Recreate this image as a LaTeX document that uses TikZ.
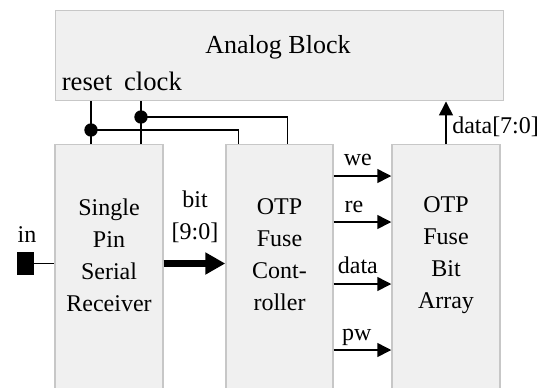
\documentclass[tikz,border=0pt]{standalone}
\usepackage{fontspec}
\setmainfont{Liberation Serif}
\usetikzlibrary{arrows.meta}
\begin{document}
\begin{tikzpicture}[
  x=0.75pt, y=-0.75pt,
  block/.style={draw=black!22, fill=black!6, line width=1.1pt, inner sep=0pt},
  txt/.style={align=center, inner sep=0pt, font=\fontsize{18}{24}\selectfont},
  sig/.style={inner sep=0pt, anchor=base, font=\fontsize{18}{24}\selectfont},
  wire/.style={line width=1.1pt},
  ctrl/.style={line width=1.1pt, -{Triangle[length=10.5pt, width=10.5pt]}},
  joint/.style={circle, fill=black, inner sep=0pt, minimum size=10pt}
]
  \clip (0,0) rectangle (546,387);

  % blocks
  \node[block, anchor=north west, minimum width=336pt, minimum height=67.5pt] (analog) at (55,10) {};
  \node[block, anchor=north, minimum width=81pt, minimum height=192pt] (ssr) at (109,144) {};
  \node[block, anchor=north, minimum width=80.25pt, minimum height=192pt] (ctl) at (279.5,144) {};
  \node[block, anchor=north, minimum width=81pt, minimum height=192pt] (arr) at (446,144) {};

  \node[txt, font=\fontsize{19.5}{24}\selectfont] (title) at (278,47) {Analog Block};
  \node[sig, font=\fontsize{20}{24}\selectfont] (reset) at (87,90) {reset};
  \node[sig, font=\fontsize{20}{24}\selectfont] (clock) at (153,90) {clock};
  \node[txt] (ssrtext) at (109,255) {Single\\Pin\\Serial\\Receiver};
  \node[txt] (ctltext) at (279.5,255) {OTP\\Fuse\\Cont-\\roller};
  \node[txt] (arrtext) at (446,255) {OTP\\Fuse\\Bit\\Array};

  % reset and clock
  \node[joint] (rdot) at (91,130) {};
  \node[joint] (cdot) at (141,117) {};
  \draw[wire] (rdot |- analog.south) -- (rdot |- ssr.north);
  \draw[wire] (cdot |- analog.south) -- (cdot |- ssr.north);
  \draw[wire] (rdot.center) -| ([xshift=9.75pt]ctl.north west);
  \draw[wire] (cdot.center) -| ([xshift=46.5pt]ctl.north west);

  % input pin and bus
  \node[fill=black, inner sep=0pt, minimum width=12.75pt, minimum height=17.25pt] (inpin) at (25.5,263.5) {};
  \node[sig] (inlbl) at (27,242) {in};
  \draw[wire] (inpin.east) -- (inpin.east -| ssr.west);
  \draw[line width=5.25pt, -{Triangle[length=15pt, width=15.75pt]}] (inpin -| ssr.east) -- (inpin -| ctl.west);
  \node[txt] (buslbl) at (195,217) {bit\\{}[9:0]};

  % controller to bit array
  \draw[ctrl] ([yshift=-24pt]ctl.north east) -- ([yshift=-24pt]arr.north west)
    node[sig, pos=0.42, yshift=8pt] (we) {we};
  \draw[ctrl] ([yshift=-58.5pt]ctl.north east) -- ([yshift=-58.5pt]arr.north west)
    node[sig, pos=0.35, yshift=7.5pt] (re) {re};
  \draw[ctrl] ([yshift=-105pt]ctl.north east) -- ([yshift=-105pt]arr.north west)
    node[sig, pos=0.42, yshift=8pt] (data) {data};
  \draw[ctrl] ([yshift=-154.5pt]ctl.north east) -- ([yshift=-154.5pt]arr.north west)
    node[sig, pos=0.4, yshift=7.5pt] (pw) {pw};

  \draw[ctrl] (arr.north) -- (arr.north |- analog.south);
  \node[sig, anchor=base west] (datalbl) at (452,133) {data[7:0]};
\end{tikzpicture}
\end{document}
